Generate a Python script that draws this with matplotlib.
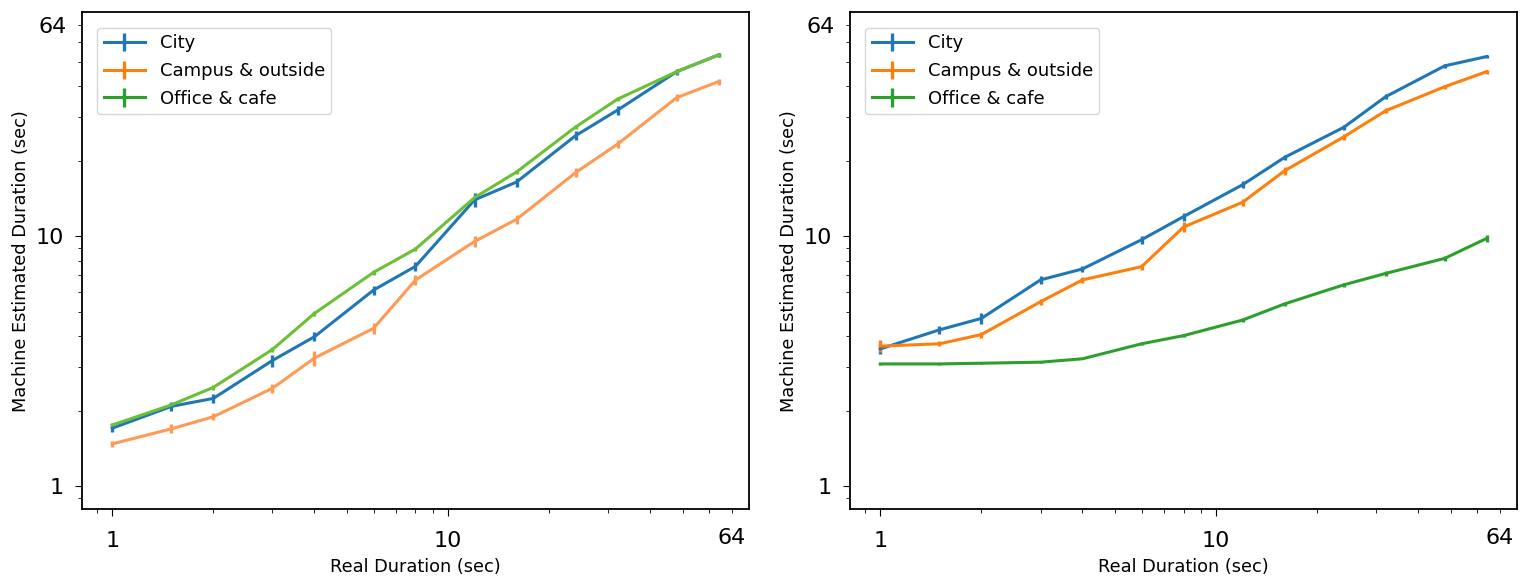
import numpy as np
import matplotlib.pyplot as plt
from matplotlib.ticker import FixedLocator, FuncFormatter

# Real durations (sec)
real = [1, 1.5, 2, 3, 4, 6, 8, 12, 16, 24, 32, 48, 64]
labels = ['City', 'Campus & outside', 'Office & cafe']

# Left panel
left_city = [1.71, 2.09, 2.25, 3.19, 3.97, 6.1, 7.59, 14.0, 16.5, 25.3, 32.0, 45.6, 53.2]
left_city_err = [0.06, 0.09, 0.09, 0.18, 0.16, 0.25, 0.32, 0.9, 0.7, 1.0, 1.3, 1.3, 1.0]
left_campus = [1.48, 1.70, 1.90, 2.47, 3.26, 4.29, 6.69, 9.55, 11.7, 18.0, 23.4, 35.9, 41.6]
left_campus_err = [0.04, 0.07, 0.06, 0.1, 0.23, 0.22, 0.32, 0.5, 0.5, 0.7, 0.9, 1.1, 1.2]
left_office = [1.76, 2.12, 2.49, 3.53, 4.92, 7.18, 8.9, 14.3, 18.1, 27.4, 35.4, 45.6, 53.2]
left_office_err = [0.03, 0.04, 0.05, 0.07, 0.1, 0.14, 0.17, 0.28, 0.35, 0.5, 0.7, 0.9, 1.0]

# Right panel
right_city = [3.55, 4.23, 4.70, 6.70, 7.41, 9.70, 12.0, 16.1, 20.7, 27.3, 36.2, 48.1, 52.4]
right_city_err = [0.16, 0.17, 0.22, 0.27, 0.22, 0.38, 0.45, 0.5, 0.55, 0.65, 0.85, 0.8, 0.7]
right_campus = [3.64, 3.72, 4.05, 5.48, 6.70, 7.57, 10.9, 13.7, 18.3, 25.0, 31.8, 39.7, 45.6]
right_campus_err = [0.2, 0.09, 0.11, 0.16, 0.16, 0.22, 0.5, 0.45, 0.65, 0.65, 0.75, 0.7, 0.9]
right_office = [3.09, 3.09, 3.11, 3.14, 3.24, 3.72, 4.01, 4.63, 5.37, 6.40, 7.11, 8.17, 9.82]
right_office_err = [0.02, 0.02, 0.02, 0.02, 0.02, 0.05, 0.06, 0.08, 0.09, 0.12, 0.14, 0.2, 0.28]

tab = ['#1f77b4', '#ff7f0e', '#2ca02c']
light = ['#1f77b4', '#ff9a55', '#6cc035']

fig = plt.figure(figsize=(15.3, 5.84), dpi=100)
ax1 = fig.add_axes([0.0536, 0.1284, 0.4359, 0.8506])
ax2 = fig.add_axes([0.5556, 0.1284, 0.4359, 0.8506])

lo, hi = 10 ** -0.0903, 10 ** 1.8964


def style(ax):
    ax.set_xscale('log')
    ax.set_yscale('log')
    ax.set_xlim(lo, hi)
    ax.set_ylim(lo, hi)
    for axis in (ax.xaxis, ax.yaxis):
        axis.set_major_locator(FixedLocator([1, 10]))
        axis.set_major_formatter(FuncFormatter(lambda v, p: '%d' % round(v)))
        axis.set_minor_formatter(FuncFormatter(lambda v, p: '64' if abs(v - 70) < 1e-6 else ''))
    ax.tick_params(which='both', labelsize=16)
    ax.tick_params(axis='x', which='both', pad=11)
    ax.tick_params(axis='y', which='both', pad=8)
    ax.tick_params(which='major', length=5)
    ax.tick_params(which='minor', length=3)
    for s in ax.spines.values():
        s.set_linewidth(1.3)
    ax.set_xlabel('Real Duration (sec)', fontsize=12.8, labelpad=5)
    ax.set_ylabel('Machine Estimated Duration (sec)', fontsize=12.8, labelpad=4)
    ax.legend(loc='upper left', fontsize=13, borderaxespad=0.85,
              borderpad=0.35, labelspacing=0.55, handlelength=2.3)


# left panel: lighter lines, legend in standard colours
for ys, es, c in zip([left_city, left_campus, left_office],
                     [left_city_err, left_campus_err, left_office_err], light):
    ax1.errorbar(real, ys, yerr=es, color=c, lw=2.2, elinewidth=2.4)
for lab, c in zip(labels, tab):
    ax1.errorbar([np.nan], [np.nan], yerr=[0], color=c, lw=2.2, elinewidth=2.4, label=lab)
style(ax1)

for ys, es, c, lab in zip([right_city, right_campus, right_office],
                          [right_city_err, right_campus_err, right_office_err], tab, labels):
    ax2.errorbar(real, ys, yerr=es, color=c, lw=2.2, elinewidth=2.4, label=lab)
style(ax2)

fig.savefig('out.png', dpi=100)
